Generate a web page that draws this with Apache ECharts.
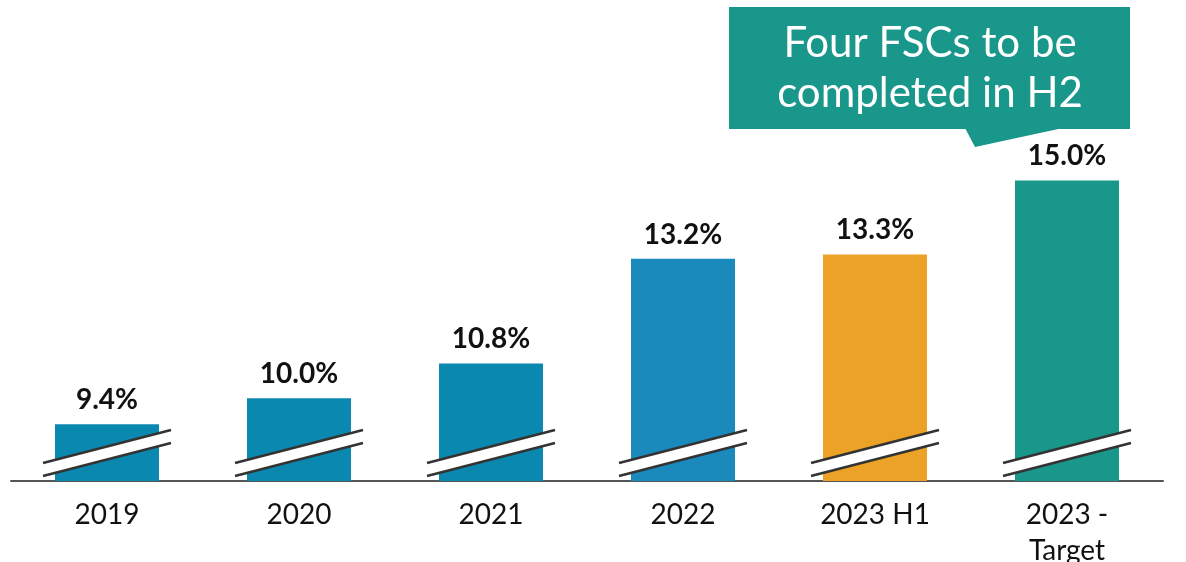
<!DOCTYPE html>
<html>
<head>
<meta charset="utf-8">
<script src="https://cdn.jsdelivr.net/npm/echarts@6/dist/echarts.min.js"></script>
<style>
  html, body { margin: 0; padding: 0; background: #fff; }
  #chart { width: 1186px; height: 562px; }
</style>
</head>
<body>
<div id="chart"></div>
<script>
// data
const categories = ['2019', '2020', '2021', '2022', '2023 H1', '2023 -\nTarget'];
const values = [9.4, 10.0, 10.8, 13.2, 13.3, 15.0];
const barColors = ['#0b88b0', '#0b88b0', '#0b88b0', '#1a8abd', '#eca226', '#19978a'];
const calloutLines = ['Four FSCs to be', 'completed in H2'];

// broken axis: bars start at a cut value, not zero
const yMin = 8.1;
const yMax = 18.2;

const chart = echarts.init(document.getElementById('chart'));

const option = {
  animation: false,
  grid: { left: 11, right: 23, top: 41, bottom: 81, outerBoundsMode: 'none' },
  xAxis: {
    type: 'category',
    data: categories,
    axisLine: { lineStyle: { color: '#555', width: 2 } },
    axisTick: { show: false },
    axisLabel: {
      color: '#111',
      fontFamily: 'Lato',
      fontSize: 28,
      lineHeight: 36,
      margin: 16
    }
  },
  yAxis: {
    type: 'value',
    min: yMin,
    max: yMax,
    show: false,
    splitLine: { show: false }
  },
  series: [
    {
      type: 'bar',
      barWidth: 104,
      data: values.map((v, i) => ({ value: v, itemStyle: { color: barColors[i] } })),
      label: {
        show: true,
        position: 'top',
        distance: 10,
        formatter: p => p.value.toFixed(1) + '%',
        color: '#111',
        fontFamily: 'Lato',
        fontWeight: 'bold',
        fontSize: 28
      }
    },
    {
      // break marks (white band with two slanted lines) across each bar
      type: 'custom',
      silent: true,
      z: 5,
      data: values.map((v, i) => [i, v]),
      renderItem (params, api) {
        const base = api.coord([api.value(0), yMin]);
        const cx = base[0];
        const cy = base[1] - 28;
        const hw = 64;   // half width of the mark
        const rise = 16.5; // vertical rise over half width
        const gap = 6.5;
        const ul = [cx - hw, cy + rise - gap], ur = [cx + hw, cy - rise - gap];
        const ll = [cx - hw, cy + rise + gap], lr = [cx + hw, cy - rise + gap];
        return {
          type: 'group',
          children: [
            { type: 'polygon', shape: { points: [ul, ur, lr, ll] }, style: { fill: '#fff' } },
            { type: 'line', shape: { x1: ul[0], y1: ul[1], x2: ur[0], y2: ur[1] }, style: { stroke: '#333', lineWidth: 2.5 } },
            { type: 'line', shape: { x1: ll[0], y1: ll[1], x2: lr[0], y2: lr[1] }, style: { stroke: '#333', lineWidth: 2.5 } }
          ]
        };
      }
    }
  ],
  graphic: [
    // callout box
    {
      type: 'group',
      left: 729,
      top: 7,
      children: [
        { type: 'rect', shape: { x: 0, y: 0, width: 401, height: 122 }, style: { fill: '#19978a' } },
        { type: 'polygon', shape: { points: [[236, 121], [246, 140], [334, 121]] }, style: { fill: '#19978a' } },
        {
          type: 'text',
          x: 201,
          y: 61,
          style: {
            text: calloutLines.join('\n'),
            fill: '#fff',
            fontFamily: 'Lato',
            fontSize: 42,
            lineHeight: 50,
            align: 'center',
            verticalAlign: 'middle'
          }
        }
      ]
    }
  ]
};

chart.setOption(option);
</script>
</body>
</html>
